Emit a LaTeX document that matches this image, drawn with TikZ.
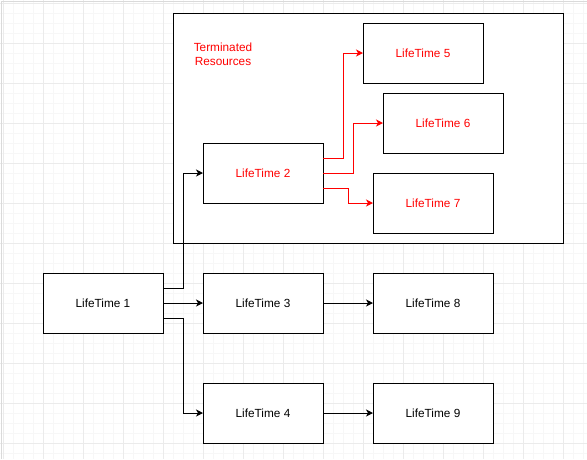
\documentclass[tikz,border=0pt]{standalone}
\usepackage{fontspec}
\setmainfont{Liberation Sans}
\usetikzlibrary{arrows.meta}
\definecolor{minorgrid}{HTML}{F7F7F7}
\definecolor{majorgrid}{HTML}{EBEBEB}
\definecolor{framegray}{HTML}{DADADA}
\definecolor{termred}{HTML}{FF0000}
\tikzset{
  lifebox/.style={draw=black, line width=1pt, fill=white, minimum width=120pt, minimum height=60pt, inner sep=0pt, outer sep=0pt, font=\fontsize{11.8}{14}\selectfont},
  redtext/.style={text=termred},
  conn/.style={draw=black, line width=1pt, -{Stealth[length=7pt,width=7pt,inset=2pt]}},
  redconn/.style={conn, draw=termred, -{Stealth[length=7pt,width=7pt,inset=2pt,fill=termred]}},
  container/.style={draw=black, line width=1pt, fill=white},
}
\begin{document}
\begin{tikzpicture}[x=1pt,y=-1pt]
\useasboundingbox (0,0) rectangle (587,459);
\fill[white] (0,0) rectangle (587,459);
% grid
\foreach \k in {0,...,58} {\draw[minorgrid, line width=1pt] ({3+10*\k},0) -- ({3+10*\k},459);}
\foreach \k in {0,...,45} {\draw[minorgrid, line width=1pt] (0,{3+10*\k}) -- (587,{3+10*\k});}
\foreach \k in {0,...,14} {\draw[majorgrid, line width=1pt] ({3+40*\k},0) -- ({3+40*\k},459);}
\foreach \k in {0,...,11} {\draw[majorgrid, line width=1pt] (0,{3+40*\k}) -- (587,{3+40*\k});}
\draw[framegray, line width=1pt] (1.5,459) -- (1.5,1.5) -- (587,1.5);
% container
\draw[container] (173,13) rectangle (563,243);
\node[text=termred, align=center, font=\fontsize{11.8}{14}\selectfont] (term) at (223,54) {Terminated\\Resources};
% nodes
\node[lifebox] (lt1) at (103,303) {LifeTime 1};
\node[lifebox, redtext] (lt2) at (263,173) {LifeTime 2};
\node[lifebox] (lt3) at (263,303) {LifeTime 3};
\node[lifebox] (lt4) at (263,413) {LifeTime 4};
\node[lifebox, redtext] (lt5) at (423,53) {LifeTime 5};
\node[lifebox, redtext] (lt6) at (443,123) {LifeTime 6};
\node[lifebox, redtext] (lt7) at (433,203) {LifeTime 7};
\node[lifebox] (lt8) at (433,303) {LifeTime 8};
\node[lifebox] (lt9) at (433,413) {LifeTime 9};
% connectors
\draw[conn] ([yshift=15pt]lt1.east) -- ++(20,0) |- (lt2.west);
\draw[conn] (lt1.east) -- (lt3.west);
\draw[conn] ([yshift=-15pt]lt1.east) -- ++(20,0) |- (lt4.west);
\draw[conn] (lt3.east) -- (lt8.west);
\draw[conn] (lt4.east) -- (lt9.west);
\draw[redconn] ([yshift=15pt]lt2.east) -- ++(20,0) |- (lt5.west);
\draw[redconn] (lt2.east) -- ++(30,0) |- (lt6.west);
\draw[redconn] ([yshift=-15pt]lt2.east) -- ++(25,0) |- (lt7.west);
\end{tikzpicture}
\end{document}
